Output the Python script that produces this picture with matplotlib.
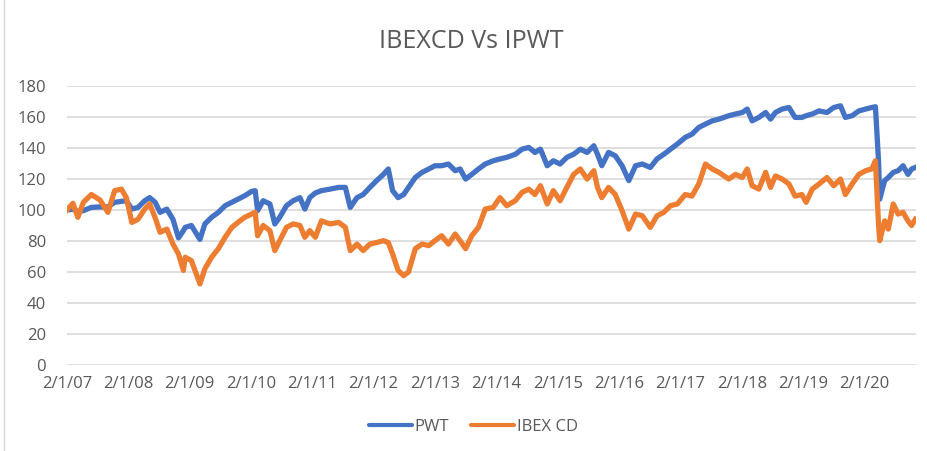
import matplotlib
matplotlib.use('Agg')
import matplotlib.pyplot as plt
from matplotlib.lines import Line2D

plt.rcParams['font.family'] = ['Open Sans', 'DejaVu Sans']

# Datos (anio decimal, base 100 en 2/1/07)
years = [2007.00, 2007.10, 2007.18, 2007.27, 2007.40, 2007.54, 2007.67, 2007.78, 2007.89, 2007.97,
         2008.06, 2008.16, 2008.27, 2008.35, 2008.44, 2008.52, 2008.63, 2008.73, 2008.82, 2008.90,
         2008.93, 2009.03, 2009.17, 2009.25, 2009.36, 2009.47, 2009.58, 2009.69, 2009.79, 2009.90,
         2010.01, 2010.07, 2010.11, 2010.20, 2010.31, 2010.39, 2010.47, 2010.58, 2010.69, 2010.80,
         2010.88, 2010.96, 2011.05, 2011.15, 2011.29, 2011.43, 2011.54, 2011.62, 2011.73, 2011.83,
         2011.94, 2012.05, 2012.16, 2012.24, 2012.31, 2012.40, 2012.49, 2012.57, 2012.68, 2012.79,
         2012.90, 2013.00, 2013.11, 2013.22, 2013.33, 2013.41, 2013.50, 2013.60, 2013.71, 2013.82,
         2013.95, 2014.06, 2014.17, 2014.31, 2014.42, 2014.53, 2014.63, 2014.72, 2014.83, 2014.93,
         2015.04, 2015.15, 2015.26, 2015.37, 2015.48, 2015.59, 2015.65, 2015.72, 2015.83, 2015.94,
         2016.05, 2016.16, 2016.27, 2016.38, 2016.51, 2016.62, 2016.73, 2016.84, 2016.95, 2017.08,
         2017.19, 2017.30, 2017.41, 2017.52, 2017.63, 2017.79, 2017.90, 2018.01, 2018.09, 2018.17,
         2018.28, 2018.39, 2018.47, 2018.55, 2018.66, 2018.77, 2018.87, 2018.98, 2019.05, 2019.15,
         2019.26, 2019.39, 2019.50, 2019.61, 2019.69, 2019.80, 2019.91, 2020.02, 2020.12, 2020.18,
         2020.23, 2020.25, 2020.33, 2020.39, 2020.47, 2020.55, 2020.63, 2020.71, 2020.77, 2020.83]

pwt = [100, 100.6, 99, 99.6, 101.7, 102, 102, 105, 105.6, 106,
       100.6, 101.7, 106, 108, 105, 98.5, 100.6, 94, 82, 86.7,
       88.8, 90, 81, 91, 95.3, 98.5, 102.8, 105, 107, 109.2,
       112, 112.5, 99.6, 106, 103.9, 91, 95.3, 102.8, 106, 108,
       100.6, 108, 111, 112.5, 113.5, 114.6, 114.6, 101.7, 108, 110,
       114.6, 119, 123, 126.5, 112.5, 108, 110, 114.6, 121, 124.3,
       126.5, 128.6, 128.6, 129.7, 125.4, 126.5, 120, 123, 126.5, 129.7,
       131.8, 133, 134, 136, 139.3, 140.4, 137.2, 139.3, 128.6, 131.8,
       129.7, 134, 136, 139.3, 137.2, 141.5, 136, 128.6, 137.2, 135,
       128.6, 119, 128.6, 129.7, 127.5, 133, 136, 139.3, 142.6, 146.9,
       149, 153.3, 155.5, 157.6, 158.7, 160.9, 162, 163, 165.2, 157.6,
       159.8, 163, 158.7, 163, 165.2, 166.2, 159.8, 159.8, 160.9, 162,
       164, 163, 166.2, 167.3, 159.8, 160.9, 164, 165.2, 166.2, 166.7,
       131.8, 107, 119, 121, 124.3, 125.4, 128.6, 123, 126.5, 127.5]

ibex_cd = [100, 104.3, 95.3, 105, 110, 106.5, 98.5, 112.5, 113.5, 108,
           92, 94, 100.6, 104, 95, 85.6, 87.7, 78, 71.6, 61,
           69.5, 67.3, 52.3, 62, 69.5, 75, 82.4, 88.8, 92, 95.3,
           97.4, 98.5, 83.4, 90, 86.7, 73.8, 80.2, 88.8, 91, 90,
           82.4, 86.7, 82.4, 93, 91, 92, 88.8, 73.8, 78, 73.8,
           78, 79, 80.2, 79, 71.6, 61, 57.6, 60, 75, 78,
           77, 80.2, 83.4, 78, 84.5, 80.2, 75, 83.4, 88.8, 100.6,
           101.7, 108, 102.8, 106, 111.4, 113.5, 110, 115.7, 103.9, 112.5,
           106, 114.6, 123, 126.5, 120, 125.4, 114.6, 108, 114.6, 110,
           99.6, 87.7, 97.4, 96.3, 88.8, 96.3, 98.5, 102.8, 103.9, 110,
           109, 116.8, 129.7, 126.5, 124.3, 120, 123, 121, 126.5, 115.7,
           113.5, 124.3, 114.6, 122, 120, 116.8, 109, 110, 105, 113.5,
           116.8, 121, 115.7, 120, 110, 116.8, 123, 125.4, 126.5, 131.8,
           91, 80.2, 93, 87.7, 103.9, 97.4, 98.5, 93, 90, 94]

tick_years = list(range(2007, 2021))
tick_labels = ['2/1/%02d' % (y % 100) for y in tick_years]
y_ticks = list(range(0, 181, 20))

BLUE = '#4472C4'
ORANGE = '#ED7D31'
GRAY = '#595959'

fig = plt.figure(figsize=(9.28, 4.51), dpi=100)
ax = fig.add_axes([0.072, 0.191, 0.915, 0.618])

ax.plot(years, pwt, color=BLUE, lw=3.8, label='PWT', solid_joinstyle='round')
ax.plot(years, ibex_cd, color=ORANGE, lw=3.8, label='IBEX CD', solid_joinstyle='round')

ax.set_xlim(2007.0, 2020.84)
ax.set_ylim(0, 180)
ax.set_yticks(y_ticks)
ax.set_xticks(tick_years)
ax.set_xticklabels(tick_labels)
ax.grid(axis='y', color='#D9D9D9', lw=1.2)
ax.set_axisbelow(True)
for s in ax.spines.values():
    s.set_visible(False)
ax.tick_params(length=0, labelsize=12, colors=GRAY)
ax.tick_params(axis='y', pad=15)
ax.tick_params(axis='x', pad=8)

fig.suptitle('IBEXCD Vs IPWT', x=0.508, y=0.935, fontsize=18, color=GRAY)

# leyenda con lineas mas finas que las series
handles = [Line2D([], [], color=BLUE, lw=3, solid_capstyle='round'),
           Line2D([], [], color=ORANGE, lw=3, solid_capstyle='round')]
fig.legend(handles, ['PWT', 'IBEX CD'], loc='center', bbox_to_anchor=(0.51, 0.053),
           ncol=2, frameon=False, fontsize=12, handlelength=2.6, handletextpad=0.15,
           columnspacing=1.3, labelcolor=GRAY)

# borde del area del grafico
fig.add_artist(Line2D([0.004, 0.004], [0, 1], color='#D9D9D9', lw=1))

plt.savefig('out.png', dpi=100)
